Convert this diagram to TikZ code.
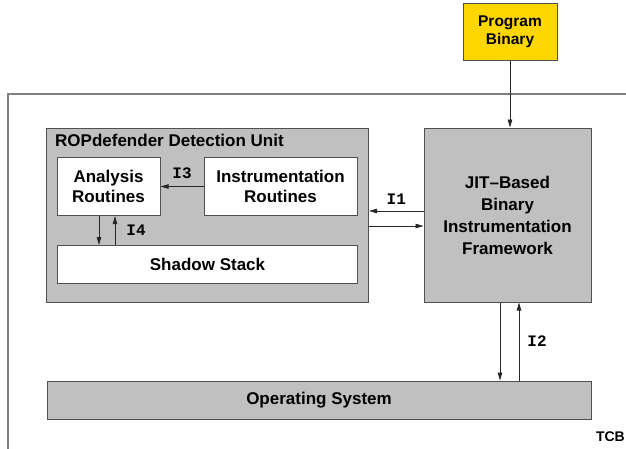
\documentclass[tikz,border=0pt]{standalone}
\usepackage{fontspec}
\setmainfont{Liberation Sans}
\setmonofont{Liberation Mono}
\usetikzlibrary{arrows.meta}
\definecolor{boxgray}{RGB}{192,192,192}
\definecolor{bingold}{RGB}{255,215,0}
\definecolor{edgegray}{RGB}{80,80,80}

\begin{document}
\begin{tikzpicture}[x=1pt,y=-1pt,
  box/.style={draw=edgegray,line width=1pt,fill=boxgray,inner sep=0pt,align=center,
    font=\fontsize{17}{19.5}\selectfont\bfseries},
  whitebox/.style={box,fill=white},
  lbl/.style={font=\fontsize{16}{18}\selectfont\ttfamily\bfseries,inner sep=2pt},
  arr/.style={-{Triangle[length=8pt,width=4.5pt]},line width=0.8pt,draw=black!85}]
\useasboundingbox (0,0) rectangle (626,448);
\clip (0,0) rectangle (626,448);
% trusted computing base
\draw[line width=1.5pt,draw=gray] (8,94) rectangle (700,520);
\node[anchor=east,inner sep=0pt,font=\fontsize{14}{16}\selectfont\bfseries] (tcb) at (625,437) {TCB};

\node[box,fill=bingold,minimum width=94pt,minimum height=57pt,
  font=\fontsize{15.5}{18}\selectfont\bfseries] (prog) at (510,31.5) {Program\\Binary};
\node[box,minimum width=322pt,minimum height=174pt] (rop) at (207.5,215) {};
\node[anchor=north west,inner sep=0pt,font=\fontsize{17}{19.5}\selectfont\bfseries]
  (roptitle) at ([xshift=9pt,yshift=-6pt]rop.north west) {ROPdefender Detection Unit};
\node[whitebox,minimum width=103pt,minimum height=58pt] (analysis) at (108.5,186.5) {Analysis\\Routines};
\node[whitebox,minimum width=153pt,minimum height=58pt] (instr) at (280.5,186.5) {Instrumentation\\Routines};
\node[whitebox,minimum width=300pt,minimum height=38pt] (shadow) at (207.5,264.5) {Shadow Stack};
\node[box,minimum width=167pt,minimum height=174pt,font=\fontsize{17}{22}\selectfont\bfseries]
  (jit) at (507.5,215) {JIT{\textendash}Based\\Binary\\Instrumentation\\Framework};
\node[box,minimum width=544pt,minimum height=38pt] (os) at (319,400) {Operating System};

\coordinate (i4dn) at ([xshift=-9.5pt]analysis.south);
\coordinate (i4up) at ([xshift=6.5pt]analysis.south);
\coordinate (i2dn) at ([xshift=-7.5pt]jit.south);
\coordinate (i2up) at ([xshift=11.5pt]jit.south);

\draw[arr] (prog.south) -- (prog.south |- jit.north);
\draw[arr] (instr.west) -- node[lbl,above=5pt] {I3} (analysis.east);
\draw[arr] ([yshift=4pt]jit.west) -- node[lbl,above=4pt] {I1} ([yshift=4pt]rop.east);
\draw[arr] ([yshift=-11pt]rop.east) -- ([yshift=-11pt]jit.west);
\draw[arr] (i4dn) -- (i4dn |- shadow.north);
\draw[arr] (i4up |- shadow.north) -- node[lbl,right=9pt] {I4} (i4up);
\draw[arr] (i2dn) -- (i2dn |- os.north);
\draw[arr] (i2up |- os.north) -- node[lbl,right=6pt] {I2} (i2up);
\end{tikzpicture}
\end{document}
